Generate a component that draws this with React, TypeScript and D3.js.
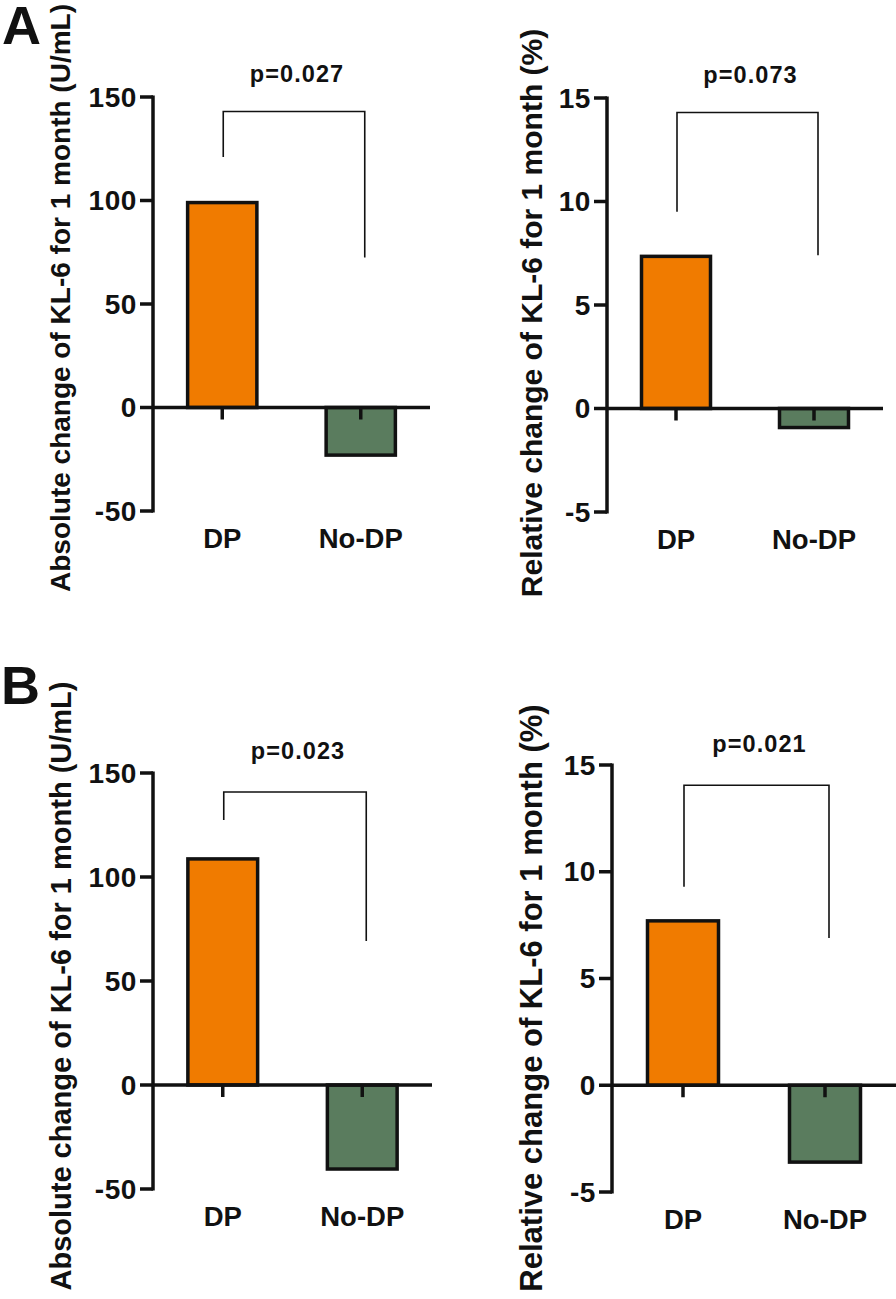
import React from "react";
import * as d3 from "d3";

// ---------- data ----------
const categories = ["DP", "No-DP"];
const absChangeA = [99, -23];
const relChangeA = [7.35, -0.92];
const absChangeB = [108.7, -40.4];
const relChangeB = [7.7, -3.6];
const absTicks = [-50, 0, 50, 100, 150];
const relTicks = [-5, 0, 5, 10, 15];
const pLabels = ["p=0.027", "p=0.073", "p=0.023", "p=0.021"];
// bracket heights in data units: top bar, left drop end, right drop end
const bracketTop = [143, 14.3, 140.9, 14.05];
const bracketLeftEnd = [121, 9.5, 127.4, 9.3];
const bracketRightEnd = [72.5, 7.4, 69.2, 6.9];
const absTitle = "Absolute change of KL-6 for 1 month (U/mL)";
const relTitle = "Relative change of KL-6 for 1 month (%)";
const panelLetters = ["A", "B"];

const barColors = ["#F07B00", "#5A7C5E"];
const FONT = "'Liberation Sans', Arial, Helvetica, sans-serif";

type Layout = {
  left: number; right: number; top: number; bottom: number;
  titleX: number; titleCY: number; titleSize: number; pY: number;
};

const layouts: Layout[] = [
  { left: 153, right: 430, top: 97, bottom: 511, titleX: 60, titleCY: 298, titleSize: 28, pY: 82 },
  { left: 607, right: 883, top: 98, bottom: 512, titleX: 531, titleCY: 313, titleSize: 30, pY: 83 },
  { left: 153, right: 432, top: 773, bottom: 1189, titleX: 61, titleCY: 986, titleSize: 29, pY: 759 },
  { left: 612, right: 896, top: 765, bottom: 1192, titleX: 531, titleCY: 998, titleSize: 31, pY: 752 },
];

const panelData = [
  { values: absChangeA, ticks: absTicks, title: absTitle },
  { values: relChangeA, ticks: relTicks, title: relTitle },
  { values: absChangeB, ticks: absTicks, title: absTitle },
  { values: relChangeB, ticks: relTicks, title: relTitle },
];

function Panel({ idx }: { idx: number }) {
  const L = layouts[idx];
  const d = panelData[idx];
  const tks = d.ticks;
  const y = d3.scaleLinear().domain([tks[0], tks[tks.length - 1]]).range([L.bottom, L.top]);
  const x = d3.scalePoint<string>().domain(categories).range([L.left, L.right]).padding(0.5);
  const bw = x.step() * 0.5;
  const y0 = y(0);
  const bx1 = (x(categories[0]) as number) + 1;
  const bx2 = (x(categories[1]) as number) + 4;
  const by = y(bracketTop[idx]);
  return (
    <g>
      {/* y title */}
      <text
        transform={`translate(${L.titleX},${L.titleCY}) rotate(-90)`}
        textAnchor="middle"
        dominantBaseline="central"
        fontFamily={FONT}
        fontWeight="bold"
        fontSize={L.titleSize}
        fill="#111"
      >
        {d.title}
      </text>
      {/* bars */}
      {d.values.map((v, i) => (
        <rect
          key={i}
          x={(x(categories[i]) as number) - bw / 2}
          y={Math.min(y(v), y0)}
          width={bw}
          height={Math.abs(y(v) - y0)}
          fill={barColors[i]}
          stroke="#111"
          strokeWidth={3.5}
        />
      ))}
      {/* y axis */}
      <line x1={L.left} x2={L.left} y1={L.top - 1.5} y2={L.bottom + 1.5} stroke="#111" strokeWidth={3.5} />
      {tks.map((t) => (
        <g key={t}>
          <line x1={L.left - 13} x2={L.left} y1={y(t)} y2={y(t)} stroke="#111" strokeWidth={3.5} />
          <text
            x={L.left - 16}
            y={y(t)}
            textAnchor="end"
            dominantBaseline="central"
            fontFamily={FONT}
            fontWeight="bold"
            fontSize={28}
            letterSpacing={0.6}
            fill="#111"
          >
            {t}
          </text>
        </g>
      ))}
      {/* x axis */}
      <line x1={L.left} x2={L.right} y1={y0} y2={y0} stroke="#111" strokeWidth={3.5} />
      {categories.map((c) => (
        <g key={c}>
          <line x1={x(c)} x2={x(c)} y1={y0} y2={y0 + 12} stroke="#111" strokeWidth={3.5} />
          <text
            x={x(c)}
            y={L.bottom + 37}
            textAnchor="middle"
            fontFamily={FONT}
            fontWeight="bold"
            fontSize={27.5}
            fill="#111"
          >
            {c}
          </text>
        </g>
      ))}
      {/* significance bracket */}
      <path
        d={`M${bx1},${y(bracketLeftEnd[idx])}V${by}H${bx2}V${y(bracketRightEnd[idx])}`}
        fill="none"
        stroke="#111"
        strokeWidth={1.6}
      />
      <text
        x={(bx1 + bx2) / 2 + 3}
        y={L.pY}
        textAnchor="middle"
        fontFamily={FONT}
        fontWeight="bold"
        fontSize={23.5}
        letterSpacing={1.1}
        fill="#111"
      >
        {pLabels[idx]}
      </text>
    </g>
  );
}

export default function App() {
  return (
    <svg
      width={896}
      height={1299}
      style={{ position: "absolute", left: 0, top: 0, background: "#fff" }}
    >
      <rect width={896} height={1299} fill="#fff" />
      <text x={2} y={44} fontFamily={FONT} fontWeight="bold" fontSize={54} fill="#111">
        {panelLetters[0]}
      </text>
      <text x={1} y={704} fontFamily={FONT} fontWeight="bold" fontSize={54} fill="#111">
        {panelLetters[1]}
      </text>
      {[0, 1, 2, 3].map((i) => (
        <Panel key={i} idx={i} />
      ))}
    </svg>
  );
}
